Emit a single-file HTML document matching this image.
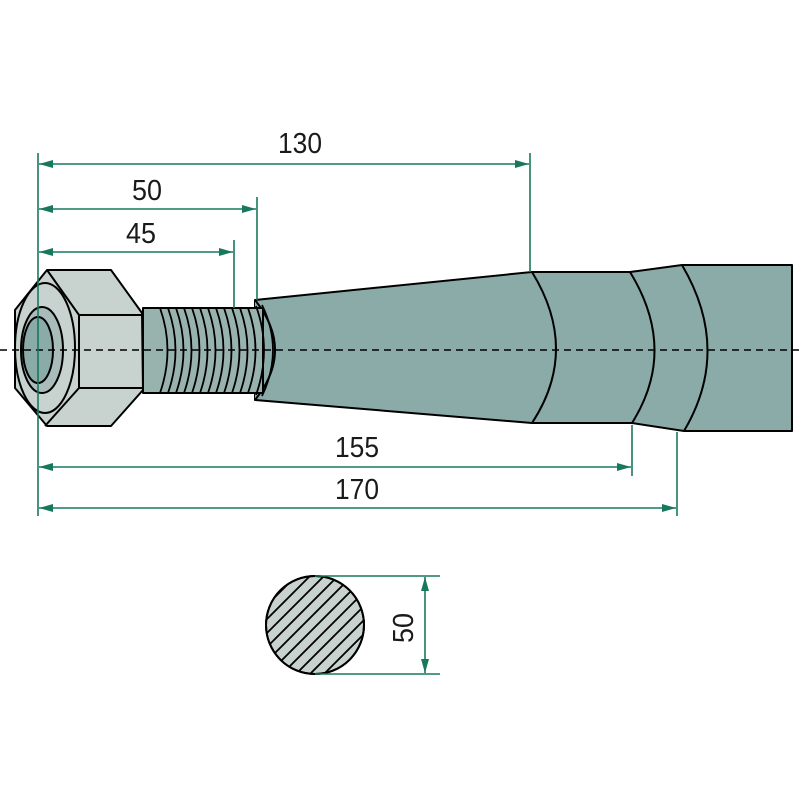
<!DOCTYPE html>
<html><head><style>html,body{margin:0;padding:0;background:#fff}svg{display:block}</style></head>
<body>
<svg width="800" height="800" viewBox="0 0 800 800" xmlns="http://www.w3.org/2000/svg">
<defs>
<marker id="a" viewBox="0 0 14 8" refX="14" refY="4" markerWidth="14" markerHeight="8" orient="auto-start-reverse" markerUnits="userSpaceOnUse"><path d="M0,0L14,4L0,8z" fill="#17785e"/></marker>
<clipPath id="cc"><circle cx="315" cy="625" r="49"/></clipPath>
</defs>
<g stroke="#000" stroke-width="2" stroke-linejoin="round">
<!-- shaft -->
<path d="M255,300 L532,272 L630,272 L682,265 L792,265 L792,431 L684,431 L632,423 L532,423 L255,400 Z" fill="#8aaba8"/>
<path d="M532,272 Q580,350 532,423 M630,272 Q678,350 632,423 M682,265 Q732,350 684,431" fill="none"/>
<path d="M255,300 Q295,350 255,400" fill="#8aaba8"/>
<!-- thread -->
<rect x="143" y="308" width="120" height="85" fill="#98b2ae"/>
<g fill="none" stroke-width="1.8">
<path d="M160,308 Q175,350 160,393"/>
<path d="M168,308 Q183,350 168,393"/>
<path d="M176,308 Q191,350 176,393"/>
<path d="M184,308 Q199,350 184,393"/>
<path d="M192,308 Q207,350 192,393"/>
<path d="M200,308 Q215,350 200,393"/>
<path d="M208,308 Q223,350 208,393"/>
<path d="M216,308 Q231,350 216,393"/>
<path d="M224,308 Q239,350 224,393"/>
<path d="M232,308 Q247,350 232,393"/>
<path d="M240,308 Q255,350 240,393"/>
<path d="M248,308 Q263,350 248,393"/>
<path d="M256,306 Q272,350 256,395"/>
<path d="M262,305 Q284,350 262,396"/>
</g>
<!-- nut -->
<path d="M47,270 L111,270 L142,313 L143,390 L111,426 L47,426 L15,388 L15,310 Z" fill="#c8d3d0"/>
<path d="M47,270 L79,315 L143,315 M79,315 L79,388 L143,388 M79,388 L45,426" fill="none"/>
<ellipse cx="45" cy="348" rx="30" ry="65" fill="#c8d3d0"/>
<ellipse cx="42" cy="350" rx="21" ry="43" fill="#a9bcb9"/>
<ellipse cx="38" cy="350" rx="15" ry="33" fill="#8aaba8"/>
<!-- section circle -->
<circle cx="315" cy="625" r="49" fill="#c8d3d0"/>
<g clip-path="url(#cc)" stroke-width="1.8">
<path d="M190,640 L320,510 M190,654 L334,510 M190,668 L348,510 M190,682 L362,510 M190,696 L376,510 M190,710 L390,510 M196,718 L404,510 M210,718 L418,510 M224,718 L432,510 M238,718 L446,510 M252,718 L460,510 M266,718 L474,510 M280,718 L488,510 M294,718 L502,510 M308,718 L516,510"/>
</g>
<circle cx="315" cy="625" r="49" fill="none"/>
</g>
<!-- center line -->
<line x1="0" y1="350" x2="800" y2="350" stroke="#000" stroke-width="1.5" stroke-dasharray="7,5"/>
<!-- dimensions -->
<g stroke="#17785e" stroke-width="1.6" fill="none">
<line x1="38" y1="153" x2="38" y2="516"/>
<line x1="530" y1="153" x2="530" y2="272"/>
<line x1="257" y1="197" x2="257" y2="300"/>
<line x1="234" y1="240" x2="234" y2="308"/>
<line x1="632" y1="425" x2="632" y2="476"/>
<line x1="677" y1="432" x2="677" y2="516"/>
<line x1="39" y1="164" x2="529" y2="164" marker-start="url(#a)" marker-end="url(#a)"/>
<line x1="39" y1="209" x2="256" y2="209" marker-start="url(#a)" marker-end="url(#a)"/>
<line x1="39" y1="252" x2="233" y2="252" marker-start="url(#a)" marker-end="url(#a)"/>
<line x1="39" y1="467" x2="631" y2="467" marker-start="url(#a)" marker-end="url(#a)"/>
<line x1="39" y1="508" x2="676" y2="508" marker-start="url(#a)" marker-end="url(#a)"/>
<line x1="315" y1="576" x2="440" y2="576"/>
<line x1="315" y1="674" x2="440" y2="674"/>
<line x1="425" y1="577" x2="425" y2="673" marker-start="url(#a)" marker-end="url(#a)"/>
</g>
<g font-family="Liberation Sans, sans-serif" font-size="29" fill="#1a1a1a" text-anchor="middle">
<text x="300" y="153" textLength="44" lengthAdjust="spacingAndGlyphs">130</text>
<text x="147" y="200" textLength="30" lengthAdjust="spacingAndGlyphs">50</text>
<text x="141" y="243" textLength="30" lengthAdjust="spacingAndGlyphs">45</text>
<text x="357" y="457" textLength="44" lengthAdjust="spacingAndGlyphs">155</text>
<text x="357" y="499" textLength="44" lengthAdjust="spacingAndGlyphs">170</text>
<text x="0" y="0" transform="translate(413,628) rotate(-90)" textLength="30" lengthAdjust="spacingAndGlyphs">50</text>
</g>
</svg>
</body></html>
